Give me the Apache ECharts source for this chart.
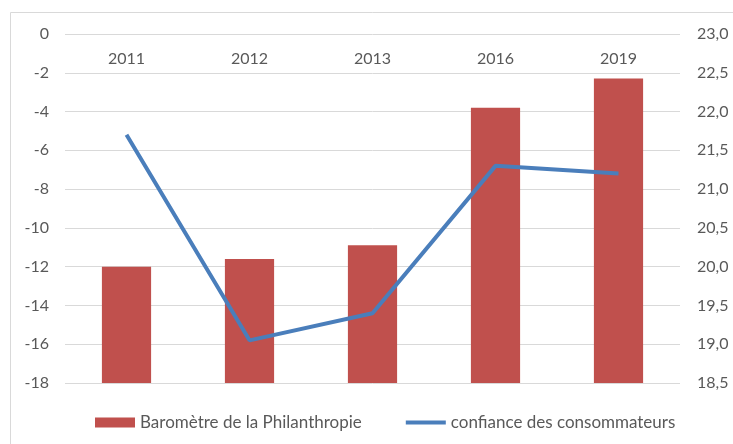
<!DOCTYPE html>
<html>
<head>
<meta charset="utf-8">
<script src="https://cdn.jsdelivr.net/npm/echarts@6/dist/echarts.min.js"></script>
<style>html,body{margin:0;padding:0;background:#fff;}#c{width:733px;height:444px;}</style>
</head>
<body>
<div id="c"></div>
<script>
const categories = ['2011', '2012', '2013', '2016', '2019'];
const barometre = [-12.0, -11.6, -10.9, -3.8, -2.3];
const confiance = [21.7, 19.05, 19.4, 21.3, 21.2];
const leftMin = -18, leftMax = 0, leftStep = 2;
const rightMin = 18.5, rightMax = 23.0, rightStep = 0.5;

const FONT = 'Lato';
const TXT = '#595959';
const chart = echarts.init(document.getElementById('c'), null, {renderer: 'canvas'});
chart.setOption({
  animation: false,
  textStyle: {fontFamily: FONT},
  graphic: [{
    type: 'rect', shape: {x: 10.5, y: 12.5, width: 760, height: 460},
    style: {fill: 'none', stroke: '#d9d9d9', lineWidth: 1}, silent: true, z: -10
  }],
  grid: {left: 65, right: 53, top: 34, bottom: 61, containLabel: false},
  legend: {
    bottom: 8, left: 90, itemGap: 42, itemWidth: 40, itemHeight: 10,
    textStyle: {color: TXT, fontSize: 17, fontFamily: FONT},
    data: [
      {name: 'Baromètre de la Philanthropie', icon: 'rect'},
      {name: 'confiance des consommateurs', itemStyle: {opacity: 0}, lineStyle: {width: 4, color: '#4A7EBB'}}
    ]
  },
  xAxis: {
    type: 'category', data: categories, position: 'top',
    axisLine: {show: false}, axisTick: {show: false},
    axisLabel: {inside: true, margin: 17, color: TXT, fontSize: 16, fontFamily: FONT}
  },
  yAxis: [
    {
      type: 'value', min: leftMin, max: leftMax, interval: leftStep, position: 'left',
      axisLine: {show: false}, axisTick: {show: false},
      axisLabel: {color: TXT, fontSize: 16, margin: 16, fontFamily: FONT},
      splitLine: {lineStyle: {color: '#d9d9d9', width: 1}}
    },
    {
      type: 'value', min: rightMin, max: rightMax, interval: rightStep, position: 'right',
      axisLine: {show: false}, axisTick: {show: false}, splitLine: {show: false},
      axisLabel: {color: TXT, fontSize: 16, margin: 17, fontFamily: FONT,
        formatter: v => v.toFixed(1).replace('.', ',')}
    },
    {
      type: 'value', min: 0, max: leftMax - leftMin, show: false, splitLine: {show: false}
    }
  ],
  series: [
    {
      name: 'Baromètre de la Philanthropie', type: 'bar', yAxisIndex: 2,
      data: barometre.map(v => v - leftMin), barWidth: '40%',
      itemStyle: {color: '#C0504D'}
    },
    {
      name: 'confiance des consommateurs', type: 'line', yAxisIndex: 1,
      data: confiance, symbol: 'none',
      lineStyle: {color: '#4A7EBB', width: 4}, itemStyle: {color: '#4A7EBB'}, z: 5
    }
  ]
});
</script>
</body>
</html>
